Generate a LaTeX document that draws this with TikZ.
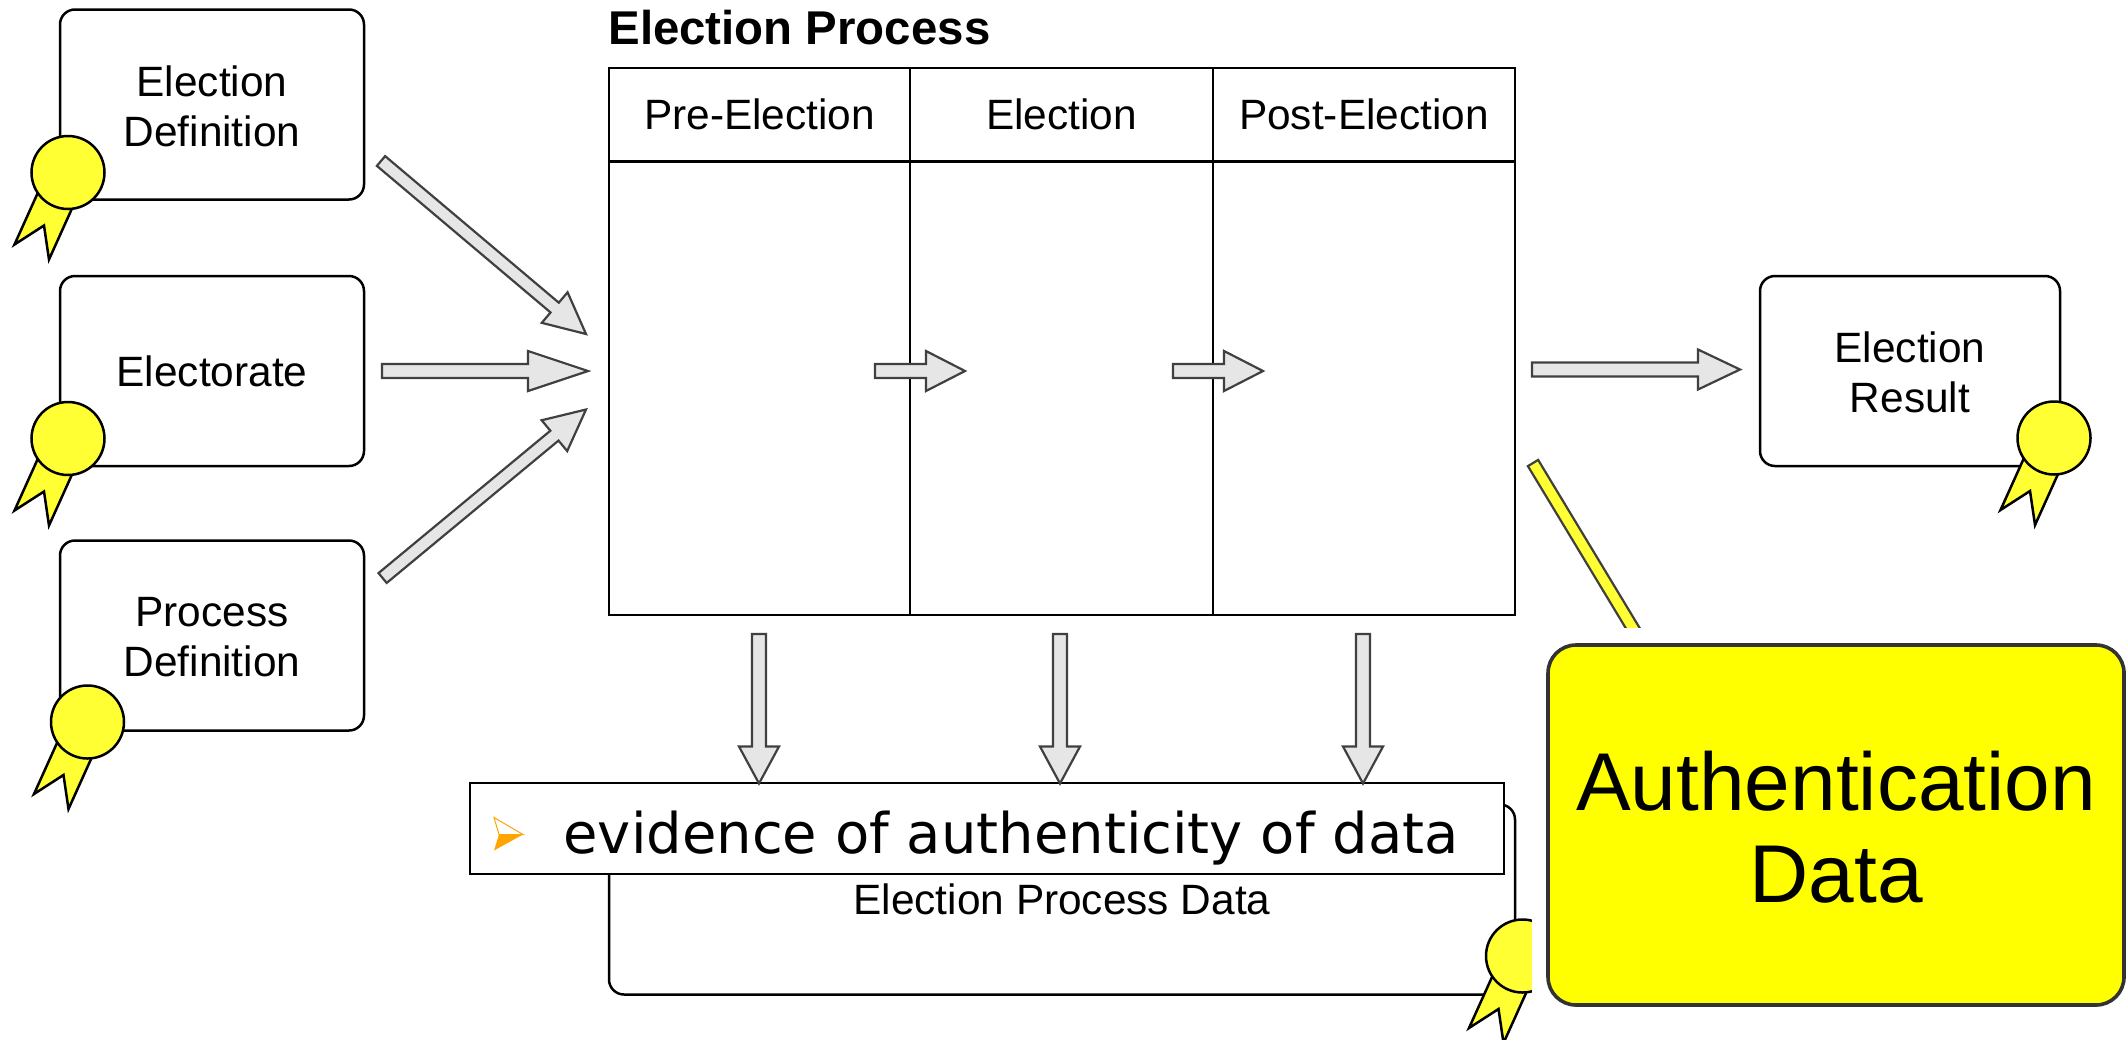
\documentclass[tikz,border=0pt]{standalone}
\usepackage{fontspec}
\setmainfont{Liberation Sans}
\newfontfamily\evfont{DejaVu Sans}
\usetikzlibrary{calc}
\definecolor{sealyellow}{HTML}{FFFF33}
\definecolor{panelyellow}{HTML}{FFFF00}
\definecolor{arrowgray}{HTML}{E6E6E6}
\definecolor{arrowline}{HTML}{404040}
\definecolor{panelline}{HTML}{333333}
\definecolor{bulletorange}{HTML}{FFA500}
\tikzset{
  sizedbox/.style n args={2}{draw=black,line width=1.25pt,minimum width=#1*0.5pt,minimum height=#2*0.5pt,inner sep=0pt,align=center,font=\fontsize{21.2}{25}\selectfont},
  roundbox/.style n args={2}{sizedbox={#1}{#2},rounded corners=7.5pt,fill=white},
  cellbox/.style n args={2}{sizedbox={#1}{#2},line width=1.1pt},
  twolines/.style={label={[inner sep=0pt,align=center,font=\fontsize{21.2}{25}\selectfont,yshift=-0.7pt]center:{#1}}},
  blockshape/.style={draw=arrowline,fill=arrowgray,line width=1.1pt,line join=miter},
  sealshape/.style={draw=black,fill=sealyellow,line width=1.25pt,line join=miter},
}
% block arrow: options, tail, tip, shaft half width, head half width, head length (pt)
\newcommand\blockarrow[6][]{%
  \coordinate (hb) at ($(#3)!#6!(#2)$);
  \draw[blockshape,#1] ($(#2)!#4!90:(#3)$) -- ($(hb)!#4!90:(#3)$) -- ($(hb)!#5!90:(#3)$) -- (#3)
     -- ($(hb)!#5!-90:(#3)$) -- ($(hb)!#4!-90:(#3)$) -- ($(#2)!#4!-90:(#3)$) -- cycle;
}
\newcommand\sealmark[2]{%
  \begin{scope}[shift={(#1,#2)}]
    \draw[sealshape] (-30.5,21) -- (-53.5,72) -- (-24,53) -- (-19,87) -- (4,36) -- cycle;
    \draw[sealshape] (0,0) circle[radius=18.25pt];
  \end{scope}
}
\begin{document}
\begin{tikzpicture}[x=0.5pt,y=-0.5pt]
\useasboundingbox (0,0) rectangle (2128,1039);
% input boxes
\node[roundbox={304}{190},twolines={Election\\Definition}] (def) at (212,104.5) {};
\node[roundbox={304}{190}] (ele) at (212,371) {Electorate};
\node[roundbox={304}{190},twolines={Process\\Definition}] (proc) at (212,635.5) {};
\node[roundbox={300}{190},twolines={Election\\Result}] (res) at (1910,371) {};
\sealmark{68}{172.5}
\sealmark{68}{438.5}
\sealmark{87.5}{722}
\sealmark{2054}{438}
% table
\node[font=\fontsize{23.7}{26}\selectfont\bfseries,anchor=base west,inner sep=0pt] (title) at (608,44) {Election Process};
\node[cellbox={301}{93.5}] (h1) at (759.5,114.7) {Pre-Election};
\node[cellbox={303}{93.5}] (h2) at (1061.5,114.7) {Election};
\node[cellbox={302}{93.5}] (h3) at (1364,114.7) {Post-Election};
\node[cellbox={301}{453.5}] (b1) at (759.5,388.2) {};
\node[cellbox={303}{453.5}] (b2) at (1061.5,388.2) {};
\node[cellbox={302}{453.5}] (b3) at (1364,388.2) {};
% data box
\node[roundbox={906}{190}] (data) at (1062,899.5) {Election Process Data};
\sealmark{1522.5}{956}
% evidence box
\node[draw=black,line width=1.25pt,fill=white,minimum width=517pt,minimum height=45.5pt,inner sep=0pt] (evid) at (986.75,828.5) {};
\node[font=\evfont\fontsize{28}{30}\selectfont,anchor=base west,inner sep=0pt] (evtext) at (563,853) {evidence of authenticity of data};
\coordinate (bt) at (494,817.5);
\coordinate (bb) at (494,850.5);
\coordinate (bp) at (523,834.5);
\coordinate (bi) at (499,834.5);
\draw[bulletorange,line width=.5pt,fill=white] (bt) -- (bp) -- (bi) -- cycle;
\fill[bulletorange] (bb) -- (bp) -- (bi) -- cycle;
% arrows
\coordinate (a1) at (381,161);   \coordinate (a1t) at (586,334);
\coordinate (a2) at (382,371);   \coordinate (a2t) at (588,371);
\coordinate (a3) at (382.6,578); \coordinate (a3t) at (586,409.5);
\coordinate (a4) at (875,371);   \coordinate (a4t) at (965,371);
\coordinate (a5) at (1173,371);  \coordinate (a5t) at (1263,371);
\coordinate (a6) at (1532,369.5);\coordinate (a6t) at (1740,369.5);
\coordinate (d1) at (759,634);   \coordinate (d1t) at (759,783.5);
\coordinate (d2) at (1060,634);  \coordinate (d2t) at (1060,783.5);
\coordinate (d3) at (1363,634);  \coordinate (d3t) at (1363,783.5);
\blockarrow{a1}{a1t}{3.2pt}{10pt}{20.5pt}
\blockarrow{a2}{a2t}{3.5pt}{10pt}{30pt}
\blockarrow{a3}{a3t}{3.2pt}{10pt}{20.5pt}
\blockarrow{a4}{a4t}{3.5pt}{10pt}{19.5pt}
\blockarrow{a5}{a5t}{3.5pt}{10pt}{19.5pt}
\blockarrow{a6}{a6t}{3.5pt}{10pt}{21pt}
\blockarrow{d1}{d1t}{3.5pt}{10pt}{18.5pt}
\blockarrow{d2}{d2t}{3.5pt}{10pt}{18.5pt}
\blockarrow{d3}{d3t}{3.5pt}{10pt}{18.5pt}
% yellow connector, running under the pasted panel
\coordinate (yt) at (1533,463);
\coordinate (yb) at (1652,660);
\draw[draw=arrowline,fill=sealyellow,line width=1.1pt] ($(yt)!3pt!90:(yb)$) -- ($(yb)!3pt!-90:(yt)$) -- ($(yb)!3pt!90:(yt)$) -- ($(yt)!3pt!-90:(yb)$) -- cycle;
% pasted panel with white margin
\fill[white] (1532,628) rectangle (2128,1039);
\node[draw=panelline,line width=1.8pt,fill=panelyellow,rounded corners=14pt,minimum width=288pt,minimum height=180pt,inner sep=0pt,label={[inner sep=0pt,align=center,font=\fontsize{41}{46}\selectfont,yshift=-1.3pt]center:{Authentication\\Data}}] (auth) at (1836,825) {};
\end{tikzpicture}
\end{document}
